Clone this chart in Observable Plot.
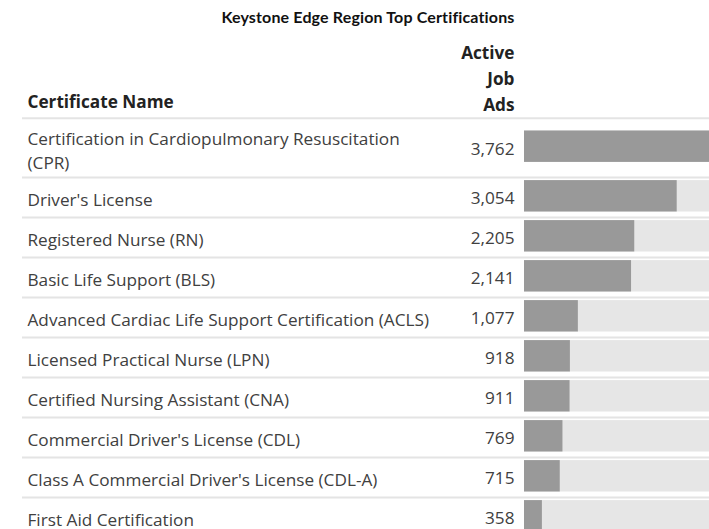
<!DOCTYPE html>
<html>
<head>
<meta charset="utf-8">
<script src="https://cdn.jsdelivr.net/npm/d3@7"></script>
<script src="https://cdn.jsdelivr.net/npm/@observablehq/plot@0.6"></script>
<style>
  html, body { margin: 0; padding: 0; background: #fff; overflow: hidden; }
  #title { height: 30px; box-sizing: border-box; padding-top: 7px; padding-left: 27px; text-align: center;
           font: bold 16px Lato, sans-serif; letter-spacing: 0.15px; color: #111; line-height: 20px; white-space: nowrap; }
  #chart svg { display: block; }
</style>
</head>
<body>
<div id="title"></div>
<div id="chart"></div>
<script>
// ---- data ----
const chartTitle = "Keystone Edge Region Top Certifications";
const nameHeader = "Certificate Name";
const valueHeader = ["Active", "Job", "Ads"];
const certificates = [
  "Certification in Cardiopulmonary Resuscitation (CPR)",
  "Driver's License",
  "Registered Nurse (RN)",
  "Basic Life Support (BLS)",
  "Advanced Cardiac Life Support Certification (ACLS)",
  "Licensed Practical Nurse (LPN)",
  "Certified Nursing Assistant (CNA)",
  "Commercial Driver's License (CDL)",
  "Class A Commercial Driver's License (CDL-A)",
  "First Aid Certification"
];
const jobAds = [3762, 3054, 2205, 2141, 1077, 918, 911, 769, 715, 358];

// ---- style / layout ----
const W = 709, H = 499;
const FONT = "Open Sans";
const FS = 17.2;
const LINE = 24;
const NAME_MAX = 412;
const headerBottom = 87.8;
const rowSingle = 40, rowDouble = 59.2;
const barHalf = 15.7;

document.getElementById("title").textContent = chartTitle;

const ctx = document.createElement("canvas").getContext("2d");
ctx.font = `${FS}px "${FONT}"`;
function wrap(text) {
  const words = text.split(" ");
  const lines = [];
  let cur = "";
  for (const w of words) {
    const t = cur ? cur + " " + w : w;
    if (cur && ctx.measureText(t).width > NAME_MAX) { lines.push(cur); cur = w; }
    else cur = t;
  }
  lines.push(cur);
  return lines;
}

let rowTop = headerBottom;
const rows = certificates.map((name, i) => {
  const lines = wrap(name);
  const h = lines.length > 1 ? rowDouble : rowSingle;
  const r = {name, lines, value: jobAds[i], top: rowTop, bottom: rowTop + h, mid: rowTop + h / 2};
  rowTop += h;
  return r;
});
const maxV = d3.max(jobAds);
const textY = d => d.mid + 6.6 - 0.32 * FS;
const barY1 = d => d.mid - 1.2 - barHalf;
const barY2 = d => d.mid - 1.2 + barHalf;

const plot = Plot.plot({
  width: W,
  height: H,
  marginLeft: 22,
  marginRight: 0,
  marginTop: 0,
  marginBottom: 0,
  style: {fontFamily: FONT, fontSize: FS + "px", color: "#404040", background: "#fff"},
  x: {domain: [0, maxV], range: [524, 524 + maxV * 0.05], axis: null},
  y: {domain: [0, H], range: [0, H], axis: null},
  marks: [
    Plot.ruleY([headerBottom, ...rows.map(d => d.bottom)], {stroke: "#e4e4e4", strokeWidth: 2}),
    Plot.rect(rows, {x1: () => 0, x2: () => maxV, y1: barY1, y2: barY2, fill: "#e6e6e6"}),
    Plot.rect(rows, {x1: () => 0, x2: "value", y1: barY1, y2: barY2, fill: "#999999"}),
    Plot.text(rows, {frameAnchor: "left", dx: 5, y: textY, text: d => d.lines.join("\n"), textAnchor: "start", lineHeight: LINE / FS, fill: "#404040"}),
    Plot.text(rows, {x: () => 0, dx: -10, y: textY, text: d => d3.format(",")(d.value), textAnchor: "end", fill: "#404040"}),
    Plot.text([nameHeader], {frameAnchor: "left", dx: 5, y: () => 77 - 0.32 * FS, text: d => d, textAnchor: "start", fontWeight: "bold", fill: "#222"}),
    Plot.text([valueHeader.join("\n")], {x: () => 0, dx: -10, y: () => 52 - 0.32 * FS, text: d => d, textAnchor: "end", fontWeight: "bold", lineHeight: 26 / FS, fill: "#222"})
  ]
});
document.getElementById("chart").appendChild(plot);
</script>
</body>
</html>
